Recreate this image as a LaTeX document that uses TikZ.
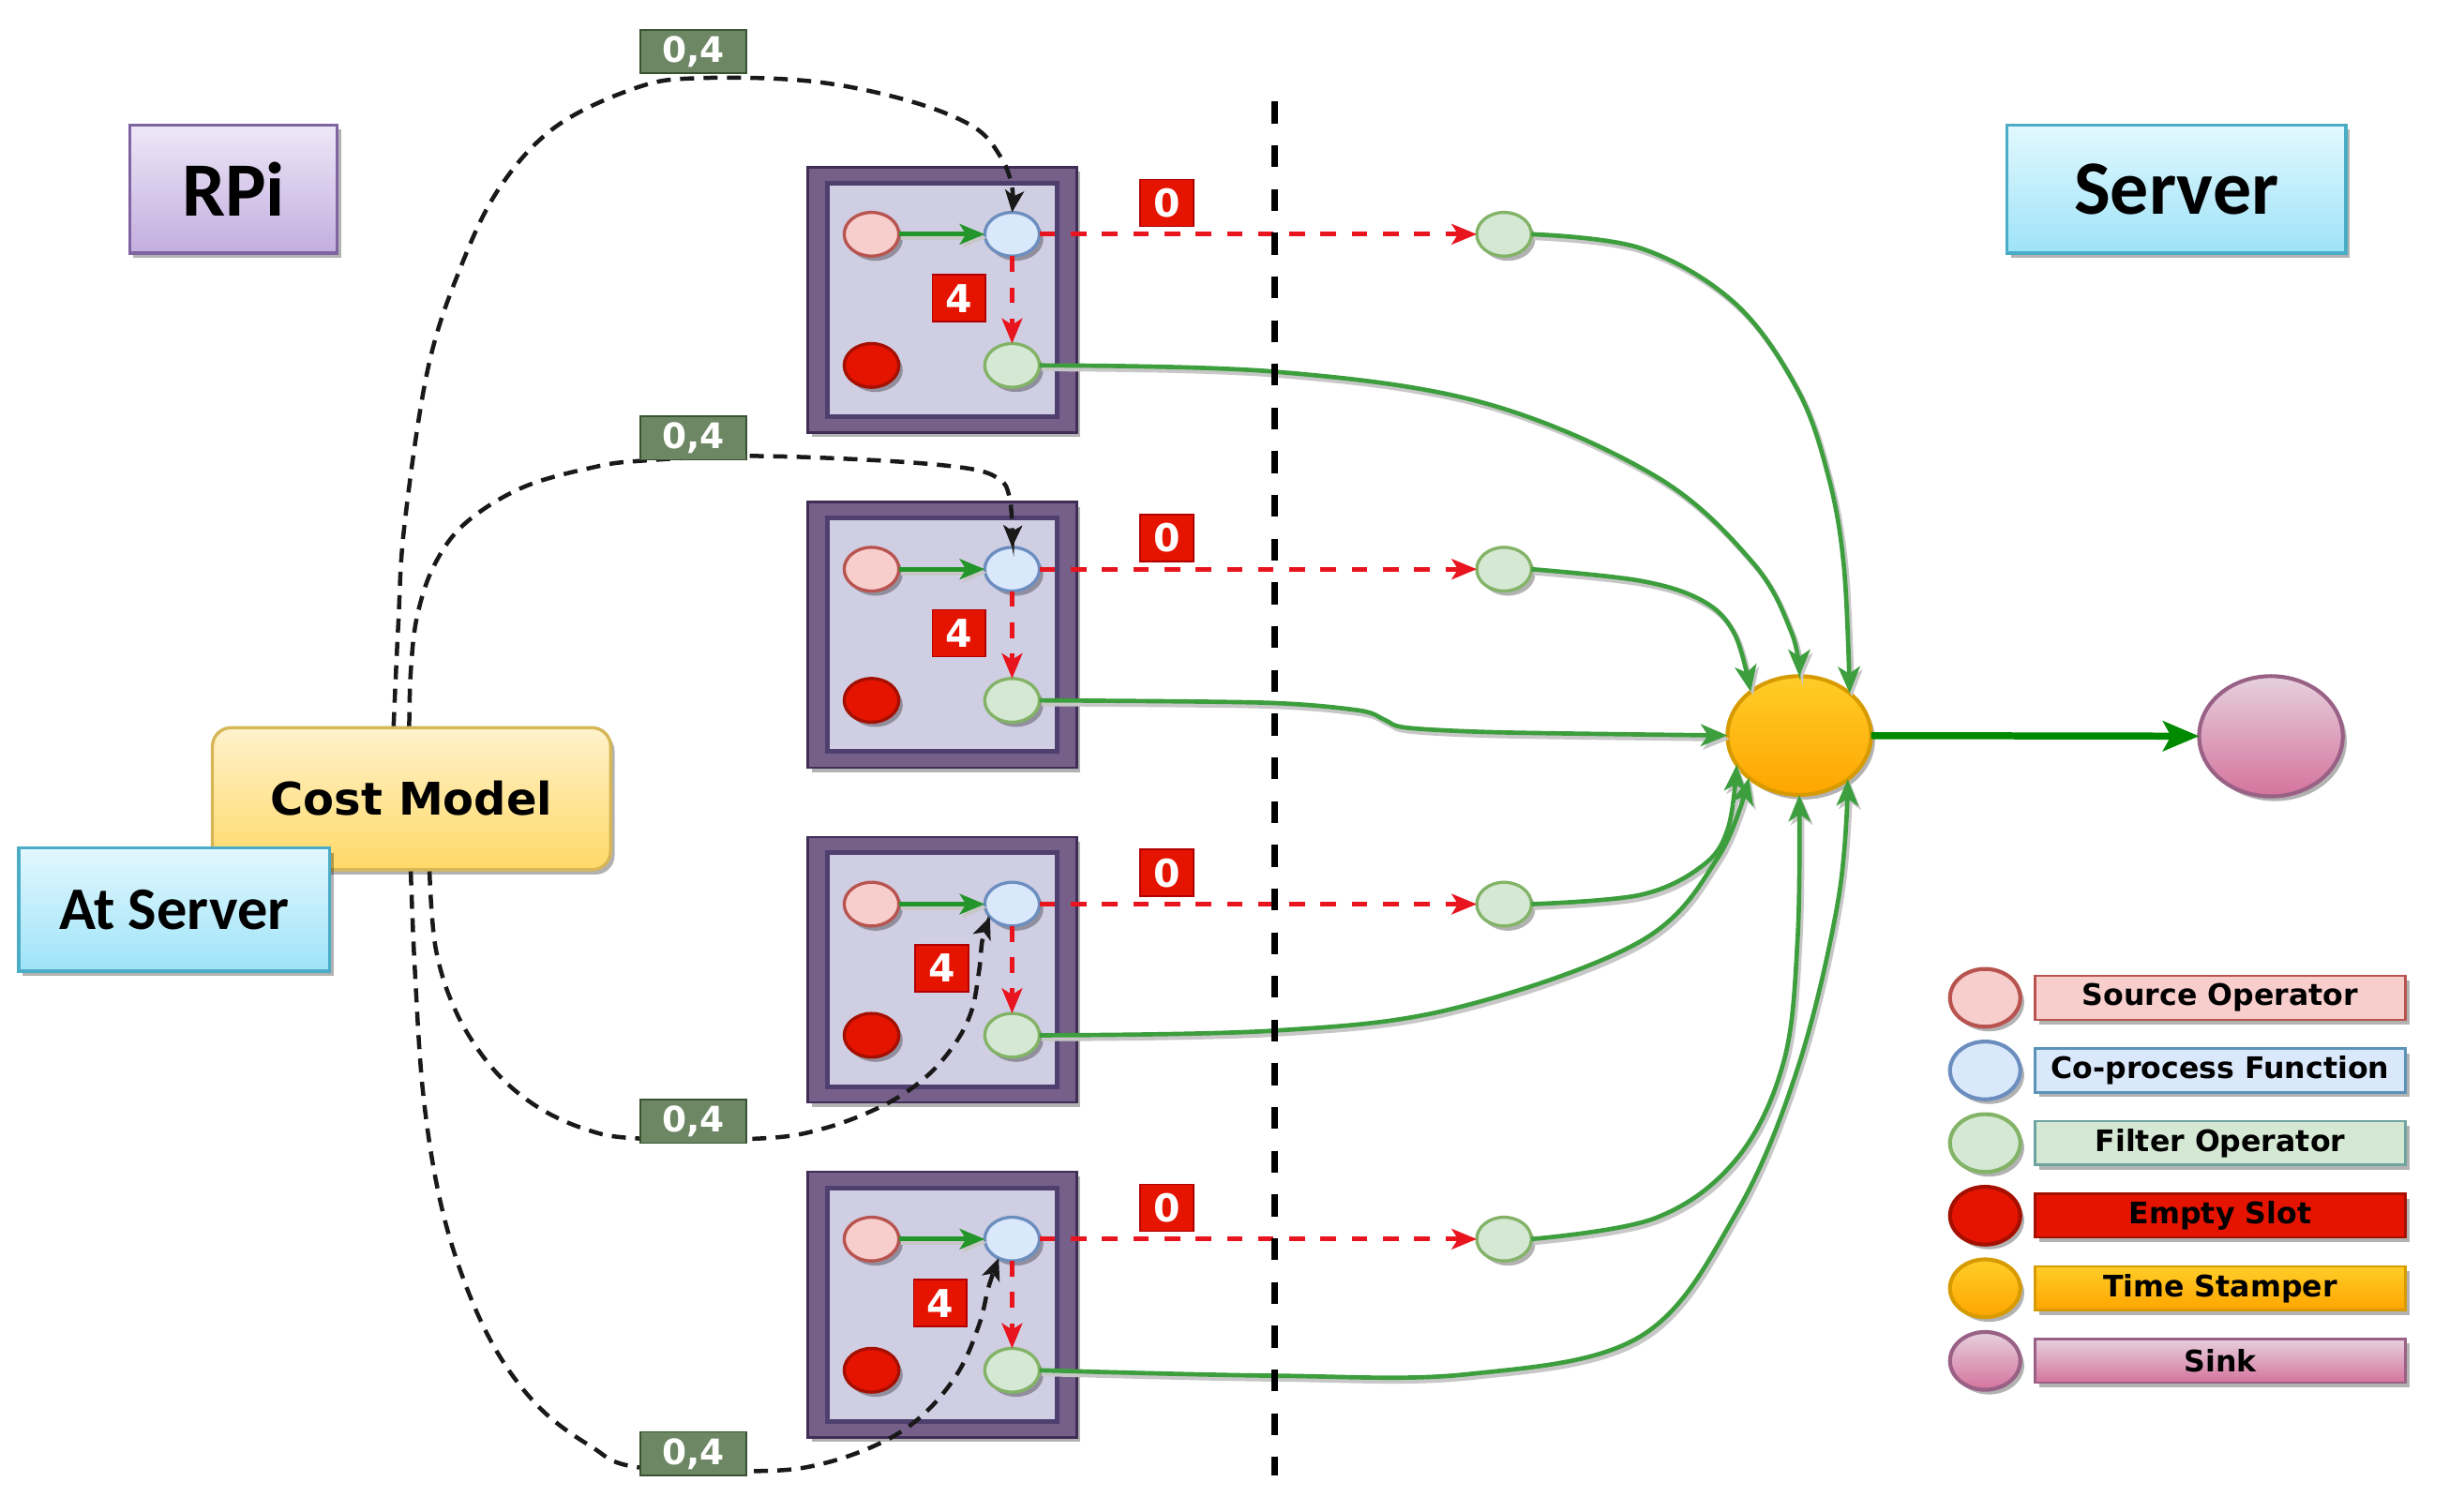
\documentclass[tikz,border=0pt]{standalone}
\usepackage{fontspec}
\setmainfont{DejaVu Sans}
\newfontfamily\carl{Carlito}
\usetikzlibrary{arrows.meta,shapes.geometric,shadows}

\definecolor{srcF}{HTML}{F8CECC}\definecolor{srcL}{HTML}{B85450}
\definecolor{cpF}{HTML}{DAE8FC}\definecolor{cpL}{HTML}{6C8EBF}
\definecolor{flF}{HTML}{D5E8D4}\definecolor{flL}{HTML}{82B366}
\definecolor{emF}{HTML}{E51400}\definecolor{emL}{HTML}{A50F00}
\definecolor{tsT}{HTML}{FFCD28}\definecolor{tsB}{HTML}{FFA500}\definecolor{tsL}{HTML}{D79B00}
\definecolor{skT}{HTML}{E6D0DE}\definecolor{skB}{HTML}{D5739D}\definecolor{skL}{HTML}{996185}
\definecolor{frmF}{HTML}{76608A}\definecolor{frmL}{HTML}{3F2D55}
\definecolor{inF}{HTML}{D0CEE2}\definecolor{inL}{HTML}{4F3F6E}
\definecolor{glF}{HTML}{6D8764}\definecolor{glL}{HTML}{3A5431}
\definecolor{rdF}{HTML}{E51400}\definecolor{rdL}{HTML}{B20000}
\definecolor{cmT}{HTML}{FFF2CC}\definecolor{cmB}{HTML}{FFD966}\definecolor{cmL}{HTML}{D6B656}
\definecolor{svT}{HTML}{E2F8FE}\definecolor{svB}{HTML}{9EE3F8}\definecolor{svL}{HTML}{4BACC6}
\definecolor{piT}{HTML}{EEE7F8}\definecolor{piB}{HTML}{C2AEDE}\definecolor{piL}{HTML}{8064A2}
\definecolor{lcpL}{HTML}{5B93B8}\definecolor{lflL}{HTML}{6FA3A0}
\definecolor{gcv}{HTML}{3C9E3C}
\definecolor{gin}{HTML}{23952A}
\definecolor{gout}{HTML}{008A00}
\definecolor{rdash}{HTML}{E8141E}

\begin{document}
\begin{tikzpicture}[x=0.1mm,y=-0.1mm,
  shd/.style={drop shadow={shadow xshift=0.25mm,shadow yshift=-0.3mm,opacity=0.3,fill=black}},
  op/.style={ellipse,minimum width=3.5mm,minimum height=2.8mm,inner sep=0pt,outer sep=0pt,line width=0.2mm,shd},
  src/.style={op,fill=srcF,draw=srcL},
  cop/.style={op,fill=cpF,draw=cpL},
  flt/.style={op,fill=flF,draw=flL},
  emp/.style={op,fill=emF,draw=emL},
  frameout/.style={rectangle,minimum width=17.2mm,minimum height=17mm,inner sep=0pt,fill=frmF,draw=frmL,line width=0.15mm,shd},
  framein/.style={rectangle,minimum width=14.7mm,minimum height=14.96mm,inner sep=0pt,fill=inF,draw=inL,line width=0.3mm},
  redlab/.style={rectangle,fill=rdF,draw=rdL,line width=0.1mm,minimum width=3.4mm,minimum height=3mm,inner sep=0pt,text=white,font=\bfseries\fontsize{7}{7}\selectfont},
  grnlab/.style={rectangle,fill=glF,draw=glL,line width=0.1mm,minimum width=6.8mm,minimum height=2.8mm,inner sep=0pt,text=white,font=\bfseries\fontsize{6.4}{6.4}\selectfont},
  titlebox/.style={rectangle,inner sep=0pt,line width=0.2mm,shd,font=\carl\bfseries\fontsize{14}{14}\selectfont},
  big/.style={ellipse,inner sep=0pt,outer sep=0pt,line width=0.25mm,shd},
  lgc/.style={ellipse,minimum width=4.5mm,minimum height=3.7mm,inner sep=0pt,line width=0.25mm,shd},
  lgb/.style={rectangle,minimum width=23.7mm,minimum height=2.8mm,inner sep=0pt,line width=0.15mm,shd,font=\bfseries\fontsize{5.4}{5.4}\selectfont},
  lineshadow/.style={preaction={draw=black!22,line width=0.32mm,transform canvas={xshift=0.15mm,yshift=-0.22mm}}},
  gcurve/.style={draw=gcv,line width=0.28mm,lineshadow,-{Stealth[length=1.7mm,width=1.4mm,inset=0.45mm]}},
  ginarrow/.style={draw=gin,line width=0.3mm,lineshadow,-{Stealth[length=1.6mm,width=1.3mm,inset=0.4mm]}},
  rline/.style={draw=rdash,line width=0.3mm,dash pattern=on 1mm off 1mm,-{Stealth[length=1.6mm,width=1.3mm,inset=0.4mm,fill=rdash]}},
  bcurve/.style={draw=black!90,line width=0.27mm,dash pattern=on 0.9mm off 0.6mm,-{Stealth[length=1.4mm,width=1.2mm,inset=0.35mm]}},
  divider/.style={draw=black,line width=0.45mm,dash pattern=on 1.4mm off 1.4mm}
]
\useasboundingbox (0,0) rectangle (1568,968);
\fill[white] (0,0) rectangle (1568,968);

% operator boxes on the RPi side, with their server-side filters
\foreach \i/\yc/\lx in {1/192/614, 2/406.5/614, 3/621/603, 4/835.5/602}{
  \node[frameout] (fo\i) at (603.3,\yc) {};
  \node[framein]  (fi\i) at (603.3,\yc) {};
  \node[src] (s\i) at (558,{\yc-42}) {};
  \node[cop] (c\i) at (648,{\yc-42}) {};
  \node[emp] (e\i) at (558,{\yc+42}) {};
  \node[flt] (f\i) at (648,{\yc+42}) {};
  \node[flt] (sf\i) at (963,{\yc-42}) {};
  \draw[ginarrow] (s\i) -- (c\i);
  \draw[rline] (c\i) -- (f\i);
  \draw[rline] (c\i) -- (sf\i);
}

% time stamper and sink
\node[big,minimum width=9.2mm,minimum height=7.6mm,top color=tsT,bottom color=tsB,draw=tsL] (ts) at (1152,471) {};
\node[big,minimum width=9.2mm,minimum height=7.7mm,top color=skT,bottom color=skB,draw=skL] (sink) at (1454,471.5) {};

% title boxes
\node[titlebox,minimum width=13.3mm,minimum height=8.2mm,top color=piT,bottom color=piB,draw=piL] (rpi) at (149.5,121) {RPi};
\node[titlebox,minimum width=21.7mm,minimum height=8.2mm,top color=svT,bottom color=svB,draw=svL] (server) at (1393.5,121) {Server};
\node[rectangle,rounded corners=1.2mm,minimum width=25.5mm,minimum height=9.1mm,inner sep=0pt,line width=0.2mm,shd,
      top color=cmT,bottom color=cmB,draw=cmL,font=\bfseries\fontsize{8.2}{8.2}\selectfont] (cm) at (263.5,511.5) {Cost Model};
\node[titlebox,minimum width=19.9mm,minimum height=7.9mm,top color=svT,bottom color=svB,draw=svL,
      font=\carl\bfseries\fontsize{11}{11}\selectfont] (atsrv) at (111.5,582.5) {At Server};

% legend
\node[lgc,fill=srcF,draw=srcL] (lg1) at (1271,639) {};
\node[lgb,fill=srcF,draw=srcL] (lt1) at (1421.5,639) {Source Operator};
\node[lgc,fill=cpF,draw=cpL] (lg2) at (1271,685.5) {};
\node[lgb,fill=cpF,draw=lcpL] (lt2) at (1421.5,685.5) {Co-process Function};
\node[lgc,fill=flF,draw=flL] (lg3) at (1271,732) {};
\node[lgb,fill=flF,draw=lflL] (lt3) at (1421.5,732) {Filter Operator};
\node[lgc,fill=emF,draw=emL] (lg4) at (1271,778.5) {};
\node[lgb,fill=emF,draw=emL] (lt4) at (1421.5,778.5) {Empty Slot};
\node[lgc,top color=tsT,bottom color=tsB,draw=tsL] (lg5) at (1271,825) {};
\node[lgb,top color=tsT,bottom color=tsB,draw=tsL] (lt5) at (1421.5,825) {Time Stamper};
\node[lgc,top color=skT,bottom color=skB,draw=skL] (lg6) at (1271,871.5) {};
\node[lgb,top color=skT,bottom color=skB,draw=skL] (lt6) at (1421.5,871.5) {Sink};

% filter outputs into the time stamper
\draw[gcurve] plot[smooth,tension=0.6] coordinates {(sf1.east) (1050.6,159) (1110.6,194) (1150.6,249) (1170.6,305) (1180.6,363) (ts.40)};
\draw[gcurve] plot[smooth,tension=0.6] coordinates {(f1.east) (816,238) (950,258) (1060,305) (1122,360) (1147,405) (ts.90)};
\draw[gcurve] plot[smooth,tension=0.6] coordinates {(sf2.east) (1050.6,372) (1090.5,385) (1110.6,406) (ts.138)};
\draw[gcurve] plot[smooth,tension=0.5] coordinates {(f2.east) (810,450) (870.5,455) (886.6,461) (900.5,466) (960.5,469) (ts.west)};
\draw[gcurve] plot[smooth,tension=0.6] coordinates {(sf3.east) (1050.6,573) (1090.5,554) (1106.5,530) (ts.205)};
\draw[gcurve] plot[smooth,tension=0.6] coordinates {(f3.east) (816,660) (930,646) (1050,603) (1100,549) (ts.220)};
\draw[gcurve] plot[smooth,tension=0.6] coordinates {(sf4.east) (1060,780) (1112,742) (1142,680) (1151,600) (ts.south)};
\draw[gcurve] plot[smooth,tension=0.6] coordinates {(f4.east) (816,881) (940,880) (1050,856) (1111,778) (1151,684) (1177,576) (ts.318)};

\draw[draw=gout,line width=0.45mm,-{Stealth[length=2.3mm,width=1.9mm,inset=0.5mm]}] (ts) -- (sink);

% cost model decisions sent to each co-process function
\coordinate (cmA) at ([xshift=-1.15mm]cm.north);
\coordinate (cmB) at ([xshift=-0.15mm]cm.north);
\coordinate (cmC) at ([xshift=1.15mm]cm.south);
\coordinate (cmD) at ([xshift=-0.05mm]cm.south);
\draw[bcurve] plot[smooth,tension=0.6] coordinates {(cmA) (255,400) (259,336) (274,236) (295,171) (320,120) (356,81) (408,56) (448,50) (519,52) (580,64) (623,81) (641,101) (648,120) (c1.north)};
\draw[bcurve] plot[smooth,tension=0.6] coordinates {(cmB) (263,430) (267,395) (278,362) (298,335) (335,312) (381,299) (412,295) (479,292) (565,295) (620,300) (640,307) (646,317) (648,335) (c2.north)};
\draw[bcurve] plot[smooth,tension=0.6] coordinates {(cmC) (279,607.5) (292,648) (314,682.5) (340.7,706.6) (373,722.5) (407.6,729) (488,729) (528,722.5) (566,707.7) (592.5,690) (611,669) (622,647.5) (627,620.7) (629,602) (c3.210)};
\draw[bcurve] plot[smooth,tension=0.6] coordinates {(cmD) (265.6,620.7) (271,701) (281.6,768) (297.8,822) (319,867) (346,902) (378,926) (407.6,939.5) (488,942) (528,937) (566,923) (592.5,904.6) (614,878) (627,848) (633,824) (c4.235)};

% boundary between RPi and server
\coordinate (vtop) at (816,65);
\coordinate (vbot) at (816,945);
\draw[divider] (vtop) -- (vbot);

% labels
\foreach \i/\yc/\lx in {1/192/614, 2/406.5/614, 3/621/603, 4/835.5/602}{
  \node[redlab] (z\i) at (747,{\yc-62}) {0};
  \node[redlab] (q\i) at (\lx,{\yc-1}) {4};
}
\node[grnlab] (g1) at (444,33) {0,4};
\node[grnlab] (g2) at (444,280.5) {0,4};
\node[grnlab] (g3) at (444,718) {0,4};
\node[grnlab] (g4) at (444,931) {0,4};
\end{tikzpicture}
\end{document}
